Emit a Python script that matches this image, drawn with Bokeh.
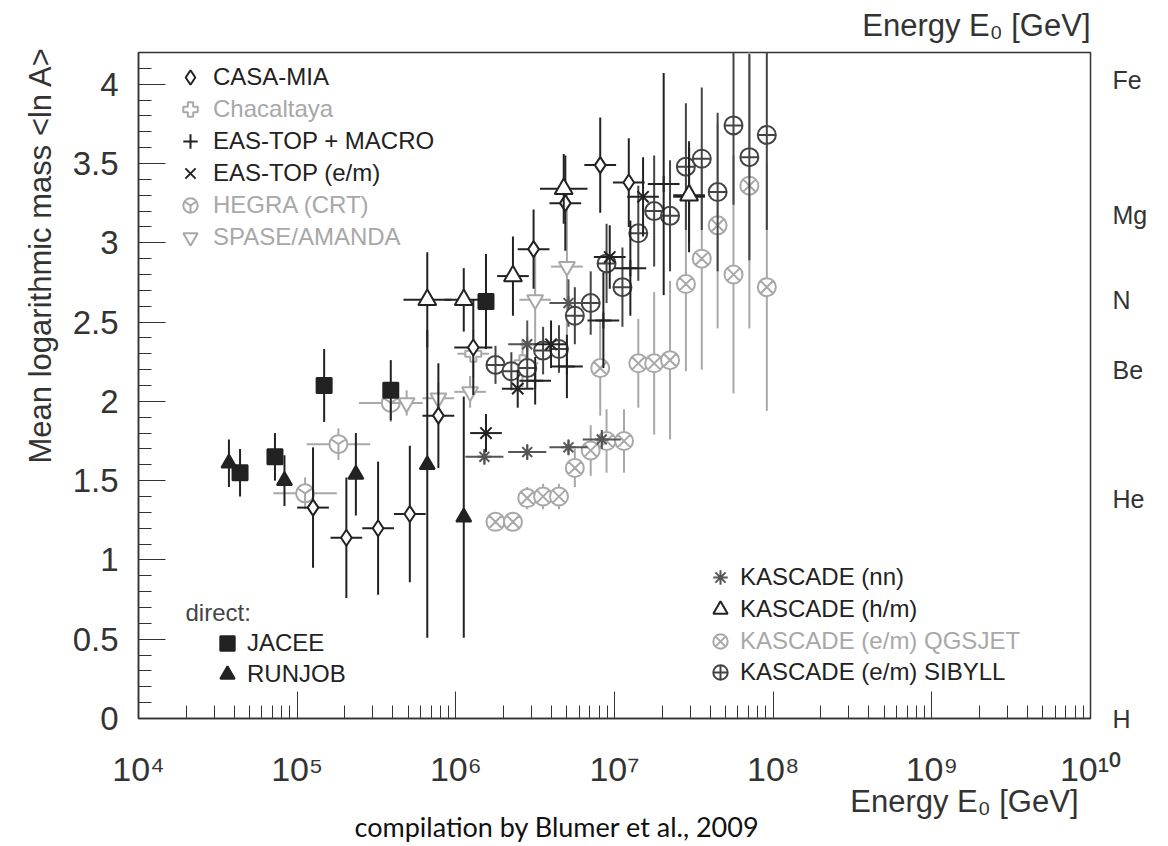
import numpy as np
from bokeh.plotting import figure
from bokeh.models import (Range1d, LogTicker, SingleIntervalTicker, LinearAxis, FixedTicker,
                          CustomJSTickFormatter, Label, Legend, LegendItem, Title)
from bokeh.embed import file_html
from bokeh.resources import INLINE

# ---------------- data (log10 of energy in GeV, <ln A>, errors) ----------------
jacee_logE = [4.64, 4.86, 5.17, 5.59, 6.19]
jacee_lnA = [1.55, 1.65, 2.10, 2.07, 2.63]
jacee_err = [0.15, 0.15, 0.23, 0.19, 0.30]

runjob_logE = [4.57, 4.92, 5.37, 5.82, 6.05]
runjob_lnA = [1.61, 1.50, 1.54, 1.60, 1.27]
runjob_err_hi = [0.15, 0.16, 0.26, 0.85, 0.76]
runjob_err_lo = [0.15, 0.16, 0.26, 1.09, 0.76]

casa_logE = [5.10, 5.31, 5.51, 5.71, 5.89, 6.11, 6.49, 6.69, 6.91, 7.09]
casa_lnA = [1.33, 1.14, 1.20, 1.29, 1.91, 2.34, 2.96, 3.25, 3.49, 3.38]
casa_err = [0.38, 0.38, 0.42, 0.43, 0.33, 0.30, 0.25, 0.30, 0.30, 0.28]
casa_xerr = [0.10, 0.10, 0.10, 0.10, 0.10, 0.12, 0.10, 0.10, 0.10, 0.10]

chac_logE = [6.11, 6.42]
chac_lnA = [2.30, 2.24]
chac_err = [0.15, 0.15]

eastop_macro_logE = [6.50, 6.70, 6.93, 7.10, 7.31, 7.47]
eastop_macro_lnA = [2.13, 2.22, 2.51, 2.84, 3.37, 3.29]
eastop_macro_err = [0.15, 0.20, 0.30, 0.30, 0.70, 0.35]

eastop_em_logE = [6.19, 6.39, 6.60, 6.97, 7.18]
eastop_em_lnA = [1.80, 2.08, 2.36, 2.91, 3.29]
eastop_em_err = [0.12, 0.12, 0.15, 0.20, 0.25]

hegra_logE = [5.05, 5.26, 5.59]
hegra_lnA = [1.42, 1.73, 1.99]
hegra_err = [0.10, 0.10, 0.12]

spase_logE = [5.69, 5.89, 6.09, 6.50, 6.70]
spase_lnA = [1.99, 2.02, 2.06, 2.64, 2.85]
spase_err = [0.08, 0.10, 0.10, 0.30, 0.50]

nn_logE = [6.18, 6.45, 6.45, 6.71, 6.71, 6.92]
nn_lnA = [1.65, 1.68, 2.36, 1.71, 2.62, 1.76]
nn_err = [0.05, 0.05, 0.15, 0.05, 0.15, 0.06]

hm_logE = [5.82, 6.05, 6.36, 6.68, 7.47]
hm_lnA = [2.64, 2.64, 2.79, 3.34, 3.30]
hm_err = [0.30, 0.20, 0.25, 0.22, 0.30]
hm_xerr = [0.15, 0.12, 0.10, 0.15, 0.10]

qgs_logE = [6.25, 6.36, 6.45, 6.55, 6.65, 6.75, 6.85, 6.95, 7.06,
            6.91, 7.15, 7.25, 7.35, 7.45, 7.55, 7.65, 7.75, 7.85, 7.96]
qgs_lnA = [1.24, 1.24, 1.39, 1.40, 1.40, 1.58, 1.69, 1.75, 1.75,
           2.21, 2.24, 2.24, 2.26, 2.74, 2.90, 3.11, 2.80, 3.36, 2.72]
qgs_err = [0.04, 0.04, 0.07, 0.08, 0.08, 0.12, 0.16, 0.20, 0.20,
           0.30, 0.28, 0.45, 0.50, 0.55, 0.70, 0.65, 0.75, 0.90, 0.78]

sib_logE = [6.25, 6.35, 6.45, 6.55, 6.65, 6.75, 6.85, 6.95, 7.05,
            7.15, 7.25, 7.35, 7.45, 7.55, 7.65, 7.75, 7.85, 7.96]
sib_lnA = [2.23, 2.19, 2.21, 2.32, 2.33, 2.54, 2.62, 2.87, 2.72,
           3.06, 3.20, 3.17, 3.48, 3.53, 3.32, 3.74, 3.54, 3.68]
sib_err = [0.12, 0.12, 0.13, 0.15, 0.15, 0.18, 0.20, 0.25, 0.25,
           0.30, 0.35, 0.35, 0.40, 0.45, 0.50, 0.50, 0.65, 0.60]

elem_names = ["H", "He", "Be", "N", "Mg", "Fe"]
elem_lnA = [float(np.log(1)), float(np.log(4)), float(np.log(9)),
            float(np.log(14)), float(np.log(24)), float(np.log(56))]

FONT = "Liberation Sans"
BLACK = "#222222"
GRAY = "#a8a8a8"
DGRAY = "#555555"
TXT = "#333333"

p = figure(width=1168, height=846, x_axis_type="log",
           x_range=Range1d(1e4, 1e10), y_range=Range1d(0, 4.2),
           output_backend="svg", toolbar_location=None,
           min_border_left=138, min_border_right=78,
           min_border_top=52, min_border_bottom=128)
p.xgrid.visible = False
p.ygrid.visible = False
p.outline_line_color = "#333333"
p.outline_line_width = 1.5
p.background_fill_color = "white"
p.border_fill_color = "white"

# x axis
xa = p.xaxis[0]
xa.ticker = LogTicker(num_minor_ticks=10, desired_num_ticks=7)
xa.formatter = CustomJSTickFormatter(code="""
const sup = {'0':'\u2070','1':'\u00b9','2':'\u00b2','3':'\u00b3','4':'\u2074','5':'\u2075',
             '6':'\u2076','7':'\u2077','8':'\u2078','9':'\u2079'};
const k = Math.round(Math.log10(tick));
return '10' + String(k).split('').map(c => sup[c]).join('');
""")
xa.major_tick_in = 27
xa.major_tick_out = 0
xa.minor_tick_in = 13
xa.minor_tick_out = 0
xa.axis_line_color = "#333333"
xa.axis_line_width = 1.5
xa.major_tick_line_color = "#333333"
xa.minor_tick_line_color = "#333333"
xa.major_label_text_font = FONT
xa.major_label_text_font_size = "34px"
xa.major_label_text_color = TXT
xa.major_label_standoff = 31

ya = p.yaxis[0]
ya.ticker = SingleIntervalTicker(interval=0.5, num_minor_ticks=5)
ya.formatter = CustomJSTickFormatter(code="return String(Math.round(tick*10)/10)")
ya.major_tick_in = 27
ya.major_tick_out = 0
ya.minor_tick_in = 13
ya.minor_tick_out = 0
ya.axis_line_color = "#333333"
ya.axis_line_width = 1.5
ya.major_tick_line_color = "#333333"
ya.minor_tick_line_color = "#333333"
ya.major_label_text_font = FONT
ya.major_label_text_font_size = "33px"
ya.major_label_text_color = TXT
ya.major_label_standoff = 20

ry = LinearAxis(ticker=FixedTicker(ticks=elem_lnA),
                formatter=CustomJSTickFormatter(args=dict(names=elem_names, vals=elem_lnA),
                    code="const i = vals.findIndex(v => Math.abs(v - tick) < 1e-6); return i < 0 ? '' : names[i];"),
                major_tick_in=0, major_tick_out=0, minor_tick_in=0, minor_tick_out=0,
                axis_line_color=None, major_label_standoff=22,
                major_label_text_font=FONT, major_label_text_font_size="25px",
                major_label_text_color=TXT)
p.add_layout(ry, "right")


def series(logE, lnA, err_lo, err_hi, xerr, color, marker, size, fill, lw=2.0, mlw=2.0):
    logE = np.array(logE, dtype=float)
    lnA = np.array(lnA, dtype=float)
    E = 10 ** logE
    p.segment(x0=E, x1=E, y0=lnA - np.array(err_lo), y1=lnA + np.array(err_hi),
              line_color=color, line_width=lw)
    if xerr is not None:
        xe = np.array(xerr, dtype=float)
        p.segment(x0=10 ** (logE - xe), x1=10 ** (logE + xe), y0=lnA, y1=lnA,
                  line_color=color, line_width=lw)
    return p.scatter(E, lnA, marker=marker, size=size, line_color=color,
                     fill_color=fill, line_width=mlw)


# gray series first
r_qgs = series(qgs_logE, qgs_lnA, qgs_err, qgs_err, None, GRAY, "circle_x", 18, "white")
r_hegra = series(hegra_logE, hegra_lnA, hegra_err, hegra_err, [0.2] * len(hegra_logE), GRAY, "circle_y", 18, "white")
r_spase = series(spase_logE, spase_lnA, spase_err, spase_err, [0.1] * len(spase_logE), GRAY, "inverted_triangle", 16, "white")
r_chac = series(chac_logE, chac_lnA, chac_err, chac_err, [0.1] * len(chac_logE), GRAY, "plus", 16, "white")
r_nn = series(nn_logE, nn_lnA, nn_err, nn_err, [0.12] * len(nn_logE), DGRAY, "asterisk", 14, "white")
# black series
r_sib = series(sib_logE, sib_lnA, sib_err, sib_err, None, "#444444", "circle_cross", 18, "white")
r_casa = series(casa_logE, casa_lnA, casa_err, casa_err, casa_xerr, BLACK, "diamond", 16, "white")
r_em = series(eastop_em_logE, eastop_em_lnA, eastop_em_err, eastop_em_err, [0.1] * len(eastop_em_logE), BLACK, "x", 16, "white")
r_macro = series(eastop_macro_logE, eastop_macro_lnA, eastop_macro_err, eastop_macro_err, [0.1] * len(eastop_macro_logE), BLACK, "cross", 16, "white")
r_hm = series(hm_logE, hm_lnA, hm_err, hm_err, hm_xerr, BLACK, "triangle", 18, "white")
r_jacee = series(jacee_logE, jacee_lnA, jacee_err, jacee_err, None, BLACK, "square", 15, BLACK)
r_runjob = series(runjob_logE, runjob_lnA, runjob_err_lo, runjob_err_hi, None, BLACK, "triangle", 15, BLACK)

FRAME_L, FRAME_B = 138, 718


def add_legend(label, r, xc, yc, color, standoff):
    leg = Legend(items=[LegendItem(label=label, renderers=[r])],
                 location=(xc - 18 - FRAME_L, FRAME_B - yc - 18),
                 glyph_width=36, glyph_height=36, label_height=36,
                 label_standoff=standoff, padding=0, margin=0, spacing=0,
                 border_line_alpha=0, background_fill_alpha=0,
                 label_text_font=FONT, label_text_font_size="24px",
                 label_text_color=color)
    p.add_layout(leg)


tl = [("CASA-MIA", r_casa, BLACK), ("Chacaltaya", r_chac, GRAY),
      ("EAS-TOP + MACRO", r_macro, BLACK), ("EAS-TOP (e/m)", r_em, BLACK),
      ("HEGRA (CRT)", r_hegra, GRAY), ("SPASE/AMANDA", r_spase, GRAY)]
for (lab, r, c), yc in zip(tl, [77, 109, 141, 173, 205, 237]):
    add_legend(lab, r, 190, yc, c, 5)

br = [("KASCADE (nn)", r_nn, BLACK), ("KASCADE (h/m)", r_hm, BLACK),
      ("KASCADE (e/m) QGSJET", r_qgs, GRAY), ("KASCADE (e/m) SIBYLL", r_sib, BLACK)]
for (lab, r, c), yc in zip(br, [577, 609, 641, 672]):
    add_legend(lab, r, 720, yc, c, 2)

for (lab, r), yc in zip([("JACEE", r_jacee), ("RUNJOB", r_runjob)], [643, 674]):
    add_legend(lab, r, 227, yc, BLACK, 2)

p.add_layout(Label(x=185 - FRAME_L, y=FRAME_B - 612, x_units="screen", y_units="screen",
                   text="direct:", text_font=FONT, text_font_size="24px", text_color="#444444",
                   text_baseline="middle", text_align="left"))

# axis titles as side-panel titles
p.add_layout(Title(text="Mean logarithmic mass <ln A>", align="right", offset=-6,
                   text_font=FONT, text_font_size="31px", text_font_style="normal",
                   text_color=TXT, standoff=24), "left")
p.add_layout(Title(text="Energy E\u2080 [GeV]", align="right", offset=12,
                   text_font=FONT, text_font_size="31px", text_font_style="normal",
                   text_color=TXT, standoff=-18), "below")
p.add_layout(Title(text="compilation by Blumer et al., 2009", align="left", offset=216,
                   text_font="Lato", text_font_size="27px", text_font_style="normal",
                   text_color="#111111", standoff=-4), "below")
p.add_layout(Title(text="Energy E\u2080 [GeV]", align="right", offset=0, vertical_align="top",
                   text_font=FONT, text_font_size="31px", text_font_style="normal",
                   text_color=TXT, standoff=15), "above")

open("out.html", "w").write(file_html(p, INLINE))
